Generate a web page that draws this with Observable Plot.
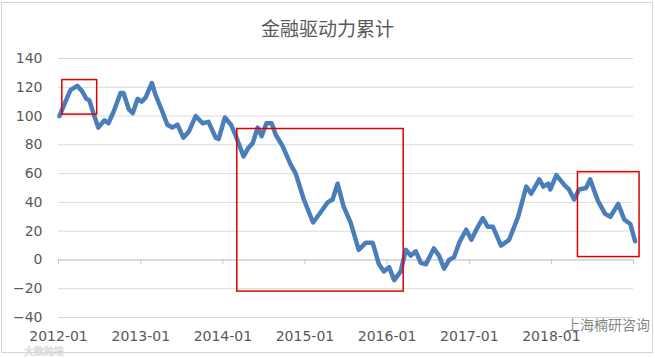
<!DOCTYPE html>
<html><head><meta charset="utf-8">
<script src="https://cdn.jsdelivr.net/npm/d3@7"></script>
<script src="https://cdn.jsdelivr.net/npm/@observablehq/plot@0.6"></script>
<style>
html,body{margin:0;padding:0;background:#fff;}
#wrap{position:relative;width:655px;height:358px;overflow:hidden;font-family:"DejaVu Sans",sans-serif;}
#frame{position:absolute;left:1px;top:2px;width:652px;height:351px;border:1px solid #d4d4d4;box-sizing:border-box;pointer-events:none;}
#title{position:absolute;left:0;top:14px;width:655px;text-align:center;font-family:"Noto Sans CJK SC",sans-serif;font-size:19px;color:#595959;white-space:nowrap;}
#wm1{position:absolute;left:566px;top:314px;font-family:"Noto Sans CJK SC",sans-serif;font-size:14px;color:rgba(90,90,90,0.75);white-space:nowrap;}
#wm2{position:absolute;left:24px;top:345px;font-family:"Noto Sans CJK SC",sans-serif;font-size:10px;line-height:11px;color:rgba(235,235,235,0.95);text-shadow:0 0 1px #999;white-space:nowrap;}
#chart{position:absolute;left:0;top:0;}
</style>
</head><body>
<div id="wrap"><div id="chart"></div><div id="title"></div><div id="wm1"></div><div id="wm2"></div><div id="frame"></div></div>
<script>
const title = "金融驱动力累计";
const watermark1 = "上海楠研咨询";
const watermark2 = "大数跨境";
const dates = ["2012-01-05","2012-02-01","2012-02-23","2012-03-24","2012-04-16","2012-05-04","2012-05-17","2012-06-04","2012-06-26","2012-07-23","2012-08-10","2012-09-02","2012-10-03","2012-10-16","2012-11-08","2012-11-26","2012-12-18","2013-01-05","2013-01-23","2013-02-19","2013-03-07","2013-04-07","2013-04-29","2013-05-21","2013-06-13","2013-07-09","2013-08-02","2013-09-02","2013-10-03","2013-10-29","2013-11-30","2013-12-13","2014-01-10","2014-02-06","2014-02-28","2014-04-03","2014-04-25","2014-05-13","2014-06-05","2014-06-22","2014-07-14","2014-08-06","2014-08-24","2014-09-24","2014-10-30","2014-11-21","2014-12-27","2015-02-06","2015-03-11","2015-04-12","2015-05-04","2015-05-26","2015-06-22","2015-07-23","2015-08-28","2015-09-29","2015-10-29","2015-11-26","2015-12-18","2016-01-10","2016-02-02","2016-03-02","2016-03-24","2016-04-16","2016-05-08","2016-05-30","2016-06-22","2016-07-27","2016-08-19","2016-09-11","2016-10-03","2016-10-25","2016-11-17","2016-12-18","2017-01-10","2017-02-01","2017-03-02","2017-03-24","2017-04-16","2017-05-22","2017-06-27","2017-08-06","2017-09-11","2017-10-03","2017-11-08","2017-11-26","2017-12-18","2017-12-27","2018-01-23","2018-02-28","2018-03-20","2018-04-12","2018-05-04","2018-06-04","2018-06-22","2018-07-27","2018-08-28","2018-09-20","2018-10-25","2018-11-21","2018-12-18","2019-01-08"];
const values = [100,110,118,121,117,112,111,102,92,97,95,103,116,116,105,102,112,110,113,123,115,103,94,92,94,85,89,100,95,96,85,84,99,94,86,72,78,81,92,86,95,95,87,79,66,60,42,26,33,40,42,53,37,26,7,12,12,-3,-8,-5,-14,-8,7,3,6,-2,-3,8,3,-6,0,2,12,21,14,21,29,23,23,10,14,30,51,46,56,51,53,49,59,52,49,42,49,50,56,41,32,30,39,28,25,13];
const tickDates = ["2012-01-01","2013-01-01","2014-01-01","2015-01-01","2016-01-01","2017-01-01","2018-01-01"];
const axisEnd = "2019-01-01";
const yTicks = [-40,-20,0,20,40,60,80,100,120,140];
const boxX1 = ["2012-01-18","2014-03-06","2018-04-29"];
const boxX2 = ["2012-06-21","2016-03-15","2019-01-28"];
const boxY1 = [101,-22,2];
const boxY2 = [125,91,61];

document.getElementById("title").textContent = title;
document.getElementById("wm1").textContent = watermark1;
document.getElementById("wm2").textContent = watermark2;

const parse = d3.utcParse("%Y-%m-%d");
const data = dates.map((d,i)=>({date: parse(d), value: values[i]}));
const ticks = tickDates.map(parse);
const allTicks = ticks.concat([parse(axisEnd)]);
const boxes = boxX1.map((d,i)=>({x1: parse(d), x2: parse(boxX2[i]), y1: boxY1[i], y2: boxY2[i]}));

const chart = Plot.plot({
  width: 655, height: 358,
  marginTop: 58, marginBottom: 41, marginLeft: 58, marginRight: 22,
  style: {fontFamily: "DejaVu Sans, sans-serif", fontSize: "14px", color: "#595959", background: "transparent"},
  x: {type: "utc", domain: [ticks[0], parse(axisEnd)]},
  y: {domain: [-40, 140]},
  marks: [
    Plot.gridY(yTicks, {stroke: "#d9d9d9", strokeOpacity: 1}),
    Plot.ruleY([0], {stroke: "#c8c8c8"}),
    Plot.ruleX(allTicks, {y1: 0, y2: 0, insetBottom: -5, stroke: "#c8c8c8"}),
    Plot.axisY(yTicks, {tickSize: 0, tickPadding: 16, fill: "#595959", fontSize: 14}),
    Plot.axisX(ticks, {tickSize: 0, tickPadding: 14, tickFormat: d3.utcFormat("%Y-%m"), fill: "#595959", fontSize: 14}),
    Plot.line(data, {x: "date", y: "value", stroke: "#4a7ebb", strokeWidth: 4.5, strokeLinejoin: "round", strokeLinecap: "round"}),
    Plot.rect(boxes, {x1: "x1", x2: "x2", y1: "y1", y2: "y2", fill: "none", stroke: "#e00000", strokeWidth: 1.5})
  ]
});
document.getElementById("chart").appendChild(chart);
</script>
</body></html>
